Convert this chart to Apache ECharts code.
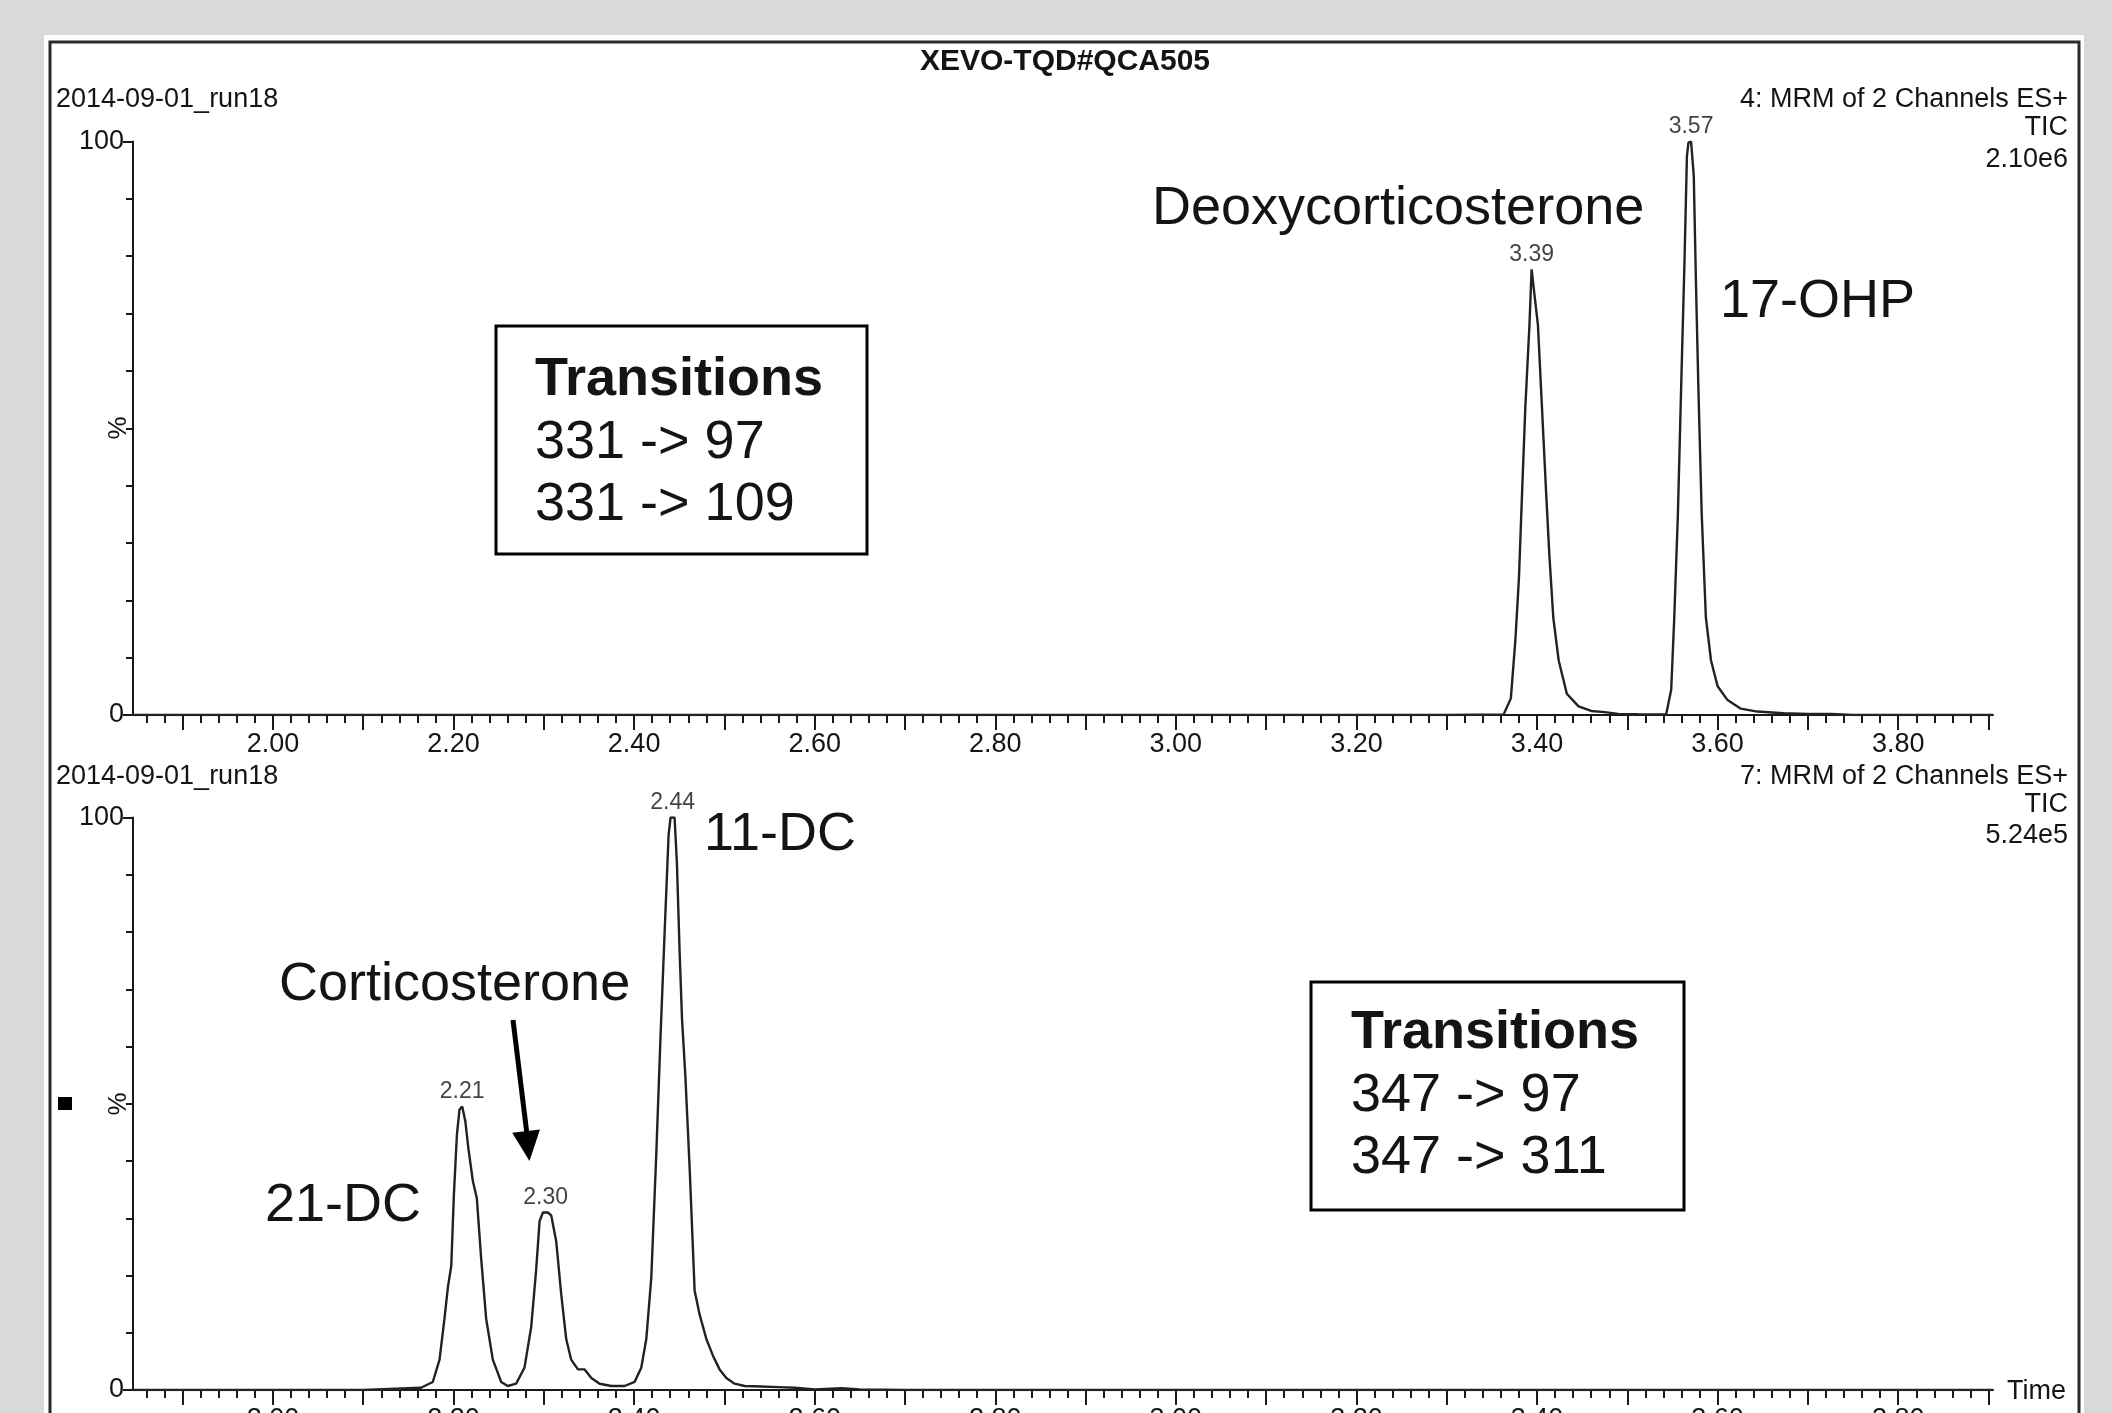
<!DOCTYPE html>
<html><head><meta charset="utf-8">
<script src="https://cdn.jsdelivr.net/npm/echarts@6/dist/echarts.min.js"></script>
<style>html,body{margin:0;padding:0;background:#d9d9d9;}#c{width:2112px;height:1413px;}</style>
</head><body><div id="c"></div>
<script>
// ---------- DATA ----------
const topTime = [1.845, 3.30, 3.363, 3.371, 3.376, 3.380, 3.3835, 3.387, 3.3916, 3.394, 3.401, 3.4055, 3.410, 3.4136, 3.418, 3.424, 3.433, 3.446, 3.460, 3.475, 3.490, 3.512, 3.543, 3.5486, 3.552, 3.556, 3.5596, 3.5633, 3.566, 3.5677, 3.5706, 3.5736, 3.576, 3.5787, 3.5824, 3.587, 3.5927, 3.600, 3.611, 3.6257, 3.644, 3.673, 3.700, 3.726, 3.750, 3.905];
const topIntensity = [0, 0, 0.1, 2.9, 13, 24, 39, 53.5, 68, 77.7, 68, 53.5, 39, 28, 17, 9.5, 3.7, 1.5, 0.7, 0.5, 0.2, 0.15, 0.1, 4.4, 17, 35, 57, 79, 97.4, 99.8, 100, 94, 75.5, 57, 35, 17, 9.5, 5, 2.6, 1.1, 0.6, 0.3, 0.2, 0.2, 0, 0];

const bottomTime = [1.845, 2.100, 2.164, 2.177, 2.1845, 2.190, 2.1938, 2.1975, 2.2003, 2.2037, 2.2066, 2.2096, 2.213, 2.2166, 2.2214, 2.2258, 2.2306, 2.2361, 2.2435, 2.2528, 2.260, 2.2693, 2.2786, 2.286, 2.2915, 2.2953, 2.299, 2.3045, 2.3082, 2.3137, 2.3193, 2.3248, 2.3303, 2.3378, 2.3452, 2.3526, 2.3618, 2.3747, 2.3895, 2.4005, 2.4079, 2.4135, 2.419, 2.4245, 2.4293, 2.4338, 2.4382, 2.4404, 2.4448, 2.4474, 2.4504, 2.453, 2.4567, 2.4615, 2.467, 2.4725, 2.480, 2.4873, 2.4947, 2.5021, 2.5113, 2.5224, 2.541, 2.560, 2.578, 2.600, 2.630, 2.650, 2.700, 3.905];
const bottomIntensity = [0, 0, 0.4, 1.4, 5.3, 12.5, 18, 21.7, 33.8, 44.5, 49, 49.5, 47, 42, 36.5, 33.5, 23, 12.5, 5.3, 1.4, 0.7, 1.1, 3.9, 11, 21, 29.5, 31, 31, 30.5, 26, 16.7, 8.9, 5.3, 3.6, 3.6, 2.1, 1.1, 0.7, 0.7, 1.4, 3.9, 8.9, 19.6, 41, 62, 80, 97, 100, 100, 92, 76.5, 65, 55, 38.8, 17.4, 13.2, 8.9, 6, 3.6, 2.1, 1.1, 0.7, 0.6, 0.5, 0.4, 0.1, 0.3, 0.1, 0, 0];

const topPeakTime = [3.394, 3.5706];
const topPeakHeight = [77.7, 100];
const topPeakLabel = ['3.39', '3.57'];
const bottomPeakTime = [2.2096, 2.302, 2.4426];
const bottomPeakHeight = [49.5, 31, 100];
const bottomPeakLabel = ['2.21', '2.30', '2.44'];

const xLabelValues = [2.0, 2.2, 2.4, 2.6, 2.8, 3.0, 3.2, 3.4, 3.6, 3.8];
const xMajorTicks = [1.9, 2.0, 2.1, 2.2, 2.3, 2.4, 2.5, 2.6, 2.7, 2.8, 2.9, 3.0, 3.1, 3.2, 3.3, 3.4, 3.5, 3.6, 3.7, 3.8, 3.9];
const yLabelValues = [0, 100];

// ---------- CHART ----------
const FONT = '"Liberation Sans", Arial, sans-serif';
const INK = '#141414';
const xMin = 1.845, xMax = 3.905;
const xMinorTicks = [];
for (let k = 93; k <= 195; k++) xMinorTicks.push(+(k * 0.02).toFixed(2));

const grids = [
  {left: 133, top: 141.5, width: 1860, height: 573.5, outerBoundsMode: 'none', containLabel: false},
  {left: 133, top: 817.5, width: 1860, height: 572.5, outerBoundsMode: 'none', containLabel: false}
];

const xAxes = [], yAxes = [];
grids.forEach((g, gi) => {
  xAxes.push({
    type: 'value', gridIndex: gi, min: xMin, max: xMax, position: 'bottom',
    axisLine: {show: true, onZero: false, lineStyle: {color: '#1a1a1a', width: 2}},
    axisTick: {show: true, length: 8, customValues: xMinorTicks, lineStyle: {color: '#1a1a1a', width: 2}},
    axisLabel: {show: false}, splitLine: {show: false}
  });
  xAxes.push({
    type: 'value', gridIndex: gi, min: xMin, max: xMax, position: 'bottom',
    axisLine: {show: false, onZero: false},
    axisTick: {show: true, length: 15, customValues: xMajorTicks, lineStyle: {color: '#1a1a1a', width: 2}},
    axisLabel: {show: true, customValues: xLabelValues, margin: 16, fontSize: 27, fontFamily: FONT, color: INK,
      formatter: v => v.toFixed(2)},
    splitLine: {show: false}
  });
  yAxes.push({
    type: 'value', gridIndex: gi, min: 0, max: 100, interval: 10, position: 'left',
    axisLine: {show: true, lineStyle: {color: '#1a1a1a', width: 2}},
    axisTick: {show: true, length: 7, lineStyle: {color: '#1a1a1a', width: 2}},
    axisLabel: {show: false}, splitLine: {show: false}
  });
  yAxes.push({
    type: 'value', gridIndex: gi, min: 0, max: 100, interval: 100, position: 'left',
    axisLine: {show: false},
    axisTick: {show: true, length: 10, lineStyle: {color: '#1a1a1a', width: 2}},
    axisLabel: {show: true, customValues: yLabelValues, margin: 9, fontSize: 27, fontFamily: FONT, color: INK},
    splitLine: {show: false}
  });
});

function lineSeries(times, vals, gi) {
  return {
    type: 'line', xAxisIndex: gi * 2, yAxisIndex: gi * 2, symbol: 'none', smooth: false,
    lineStyle: {color: '#222', width: 2.4}, animation: false, silent: true,
    data: times.map((t, i) => [t, vals[i]]), z: 3
  };
}
function peakSeries(times, vals, labels, gi) {
  return {
    type: 'scatter', xAxisIndex: gi * 2, yAxisIndex: gi * 2, symbolSize: 0, animation: false, silent: true,
    data: times.map((t, i) => [t, vals[i], labels[i]]),
    label: {show: true, position: 'top', distance: 3, formatter: p => p.data[2],
      fontSize: 23, fontFamily: FONT, color: '#111'}
  };
}

function txt(text, x, y, size, opts) {
  opts = opts || {};
  return {type: 'text', x: x, y: y, z: 100, rotation: opts.rotation || 0,
    style: {text: text, fontSize: size, fontFamily: FONT, fontWeight: opts.bold ? 'bold' : 'normal',
      fill: opts.fill || INK, align: opts.align || 'left', verticalAlign: 'middle'}};
}

// arrow geometry
const tip = [529.5, 1161], dir = [0.114, 0.9935], aLen = 30, aHalf = 14;
const baseC = [tip[0] - aLen * dir[0], tip[1] - aLen * dir[1]];
const perp = [dir[1], -dir[0]];

const graphic = [
  {type: 'rect', z: -10, shape: {x: 44, y: 35, width: 2040, height: 1400}, style: {fill: '#ffffff'}},
  {type: 'rect', z: -9, shape: {x: 50, y: 42, width: 2029, height: 1400}, style: {fill: 'none', stroke: '#2a2a2a', lineWidth: 3}},
  txt('XEVO-TQD#QCA505', 1065, 62, 30, {bold: true, align: 'center'}),
  txt('2014-09-01_run18', 56, 100, 27),
  txt('4: MRM of 2 Channels ES+', 2068, 100, 27, {align: 'right'}),
  txt('TIC', 2068, 128, 27, {align: 'right'}),
  txt('2.10e6', 2068, 160, 27, {align: 'right'}),
  txt('2014-09-01_run18', 56, 777, 27),
  txt('7: MRM of 2 Channels ES+', 2068, 777, 27, {align: 'right'}),
  txt('TIC', 2068, 805, 27, {align: 'right'}),
  txt('5.24e5', 2068, 836, 27, {align: 'right'}),
  txt('%', 119, 428, 26, {align: 'center', rotation: Math.PI / 2}),
  txt('%', 119, 1104, 26, {align: 'center', rotation: Math.PI / 2}),
  {type: 'rect', z: 100, shape: {x: 58, y: 1097, width: 14, height: 13}, style: {fill: '#000'}},
  txt('Time', 2007, 1392, 27),
  // annotations
  txt('Deoxycorticosterone', 1152, 209, 54),
  txt('17-OHP', 1720, 302, 54),
  txt('11-DC', 704, 835, 54),
  txt('Corticosterone', 279, 985, 54),
  txt('21-DC', 265, 1206, 54),
  {type: 'rect', z: 100, shape: {x: 496, y: 326, width: 371, height: 228}, style: {fill: 'none', stroke: '#000', lineWidth: 3}},
  txt('Transitions', 535, 380, 54, {bold: true}),
  txt('331 -> 97', 535, 443, 54),
  txt('331 -> 109', 535, 505, 54),
  {type: 'rect', z: 100, shape: {x: 1311, y: 982, width: 373, height: 228}, style: {fill: 'none', stroke: '#000', lineWidth: 3}},
  txt('Transitions', 1351, 1033, 54, {bold: true}),
  txt('347 -> 97', 1351, 1096, 54),
  txt('347 -> 311', 1351, 1158, 54),
  {type: 'line', z: 100, shape: {x1: 513, y1: 1020, x2: baseC[0] + 1, y2: baseC[1] + 4}, style: {stroke: '#000', lineWidth: 5}},
  {type: 'polygon', z: 100, shape: {points: [tip,
    [baseC[0] + aHalf * perp[0], baseC[1] + aHalf * perp[1]],
    [baseC[0] - aHalf * perp[0], baseC[1] - aHalf * perp[1]]]}, style: {fill: '#000'}}
];

const chart = echarts.init(document.getElementById('c'), null, {renderer: 'canvas'});
chart.setOption({
  backgroundColor: '#d9d9d9',
  animation: false,
  grid: grids,
  xAxis: xAxes,
  yAxis: yAxes,
  series: [
    lineSeries(topTime, topIntensity, 0),
    lineSeries(bottomTime, bottomIntensity, 1),
    peakSeries(topPeakTime, topPeakHeight, topPeakLabel, 0),
    peakSeries(bottomPeakTime, bottomPeakHeight, bottomPeakLabel, 1)
  ],
  graphic: graphic
});
</script></body></html>
